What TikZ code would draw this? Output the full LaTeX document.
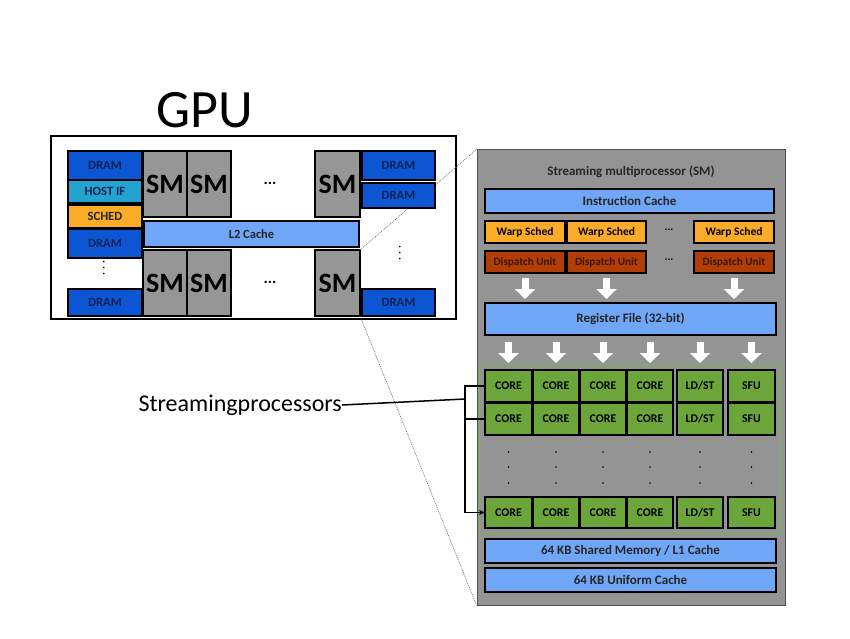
\documentclass[tikz,border=0pt]{standalone}
\usepackage{fontspec}
\setmainfont{Carlito}
\usepackage{tikz}
\usetikzlibrary{
    arrows.meta,
    calc,
    positioning
}
\usepackage{xcolor}
\definecolor{dramblue}{RGB}{12,86,212}
\definecolor{dramtext}{RGB}{18,34,84}
\definecolor{hostcyan}{RGB}{36,162,208}
\definecolor{schedorange}{RGB}{250,172,40}
\definecolor{cacheblue}{RGB}{112,166,246}
\definecolor{smgray}{RGB}{150,150,150}
\definecolor{panelgray}{RGB}{148,148,148}
\definecolor{panelborder}{RGB}{80,80,80}
\definecolor{dispatchred}{RGB}{176,62,6}
\definecolor{dispatchtext}{RGB}{60,22,4}
\definecolor{coregreen}{RGB}{108,166,58}
\definecolor{groupgreen}{RGB}{120,180,80}
\tikzstyle{block} = [
    rectangle,
    anchor=north west,
    inner sep=0pt,
    outer sep=0pt,
    draw=black,
    line width=1.2pt,
    text centered,
    font=\fontsize{12.6}{14}\selectfont\bfseries
]
\tikzstyle{dram} = [block, fill=dramblue, text=dramtext]
\tikzstyle{smblock} = [block, fill=smgray, font=\fontsize{28}{30}\selectfont\bfseries]
\tikzstyle{cache} = [block, fill=cacheblue, text=black!85, font=\fontsize{13}{15}\selectfont\bfseries]
\tikzstyle{warp} = [block, fill=schedorange, font=\fontsize{11.5}{13}\selectfont\bfseries]
\tikzstyle{dispatch} = [block, fill=dispatchred, text=dispatchtext, font=\fontsize{11.2}{13}\selectfont\bfseries]
\tikzstyle{core} = [block, fill=coregreen, font=\fontsize{11.8}{13}\selectfont\bfseries]
\tikzstyle{gpubox} = [rectangle, anchor=north west, draw=black, line width=1.6pt]
\tikzstyle{panel} = [rectangle, anchor=north west, draw=panelborder, fill=panelgray, line width=1.4pt]
\tikzstyle{spgroup} = [rectangle, anchor=north west, draw=groupgreen, line width=1.4pt]
\tikzstyle{hand} = [font=\fontsize{24}{28}\selectfont, inner sep=0pt]
\tikzstyle{ellip} = [font=\fontsize{11}{12}\selectfont\bfseries]
\tikzstyle{bigarrow} = [
    draw=white,
    line width=7pt,
    -{Triangle[width=20pt, length=10pt]}
]
\tikzstyle{bracket} = [draw=black, line width=1.5pt]
\tikzstyle{zoomline} = [draw=gray!80!black, line width=0.6pt, dash pattern=on 1pt off 1pt]

\begin{document}
\begin{tikzpicture}[x=1pt, y=-1pt]
    \fill[white] (0,0) rectangle (850,638);
    \useasboundingbox (0,0) rectangle (850,638);

    % GPU overview
    \node[hand, font=\fontsize{54}{60}\selectfont] (gpulabel) at (205,110) {GPU};
    \node[gpubox, minimum width=405, minimum height=183] (gpu) at (50,135) {};

    % SM panel
    \node[panel, minimum width=308, minimum height=456] (smpanel) at (477,149) {};

    % Left column
    \node[dram, minimum width=74, minimum height=29] (dramA) at (68,151) {DRAM};
    \node[block, fill=hostcyan, text=dramtext, minimum width=74, minimum height=23] (hostif) at (68,180) {HOST IF};
    \node[block, fill=schedorange, text=black!85, minimum width=74, minimum height=23] (sched) at (68,205) {SCHED};
    \node[dram, minimum width=74, minimum height=29] (dramB) at (68,229) {DRAM};
    \node[ellip] at (104,268) {\rotatebox{90}{. . .}};
    \node[dram, minimum width=74, minimum height=27] (dramC) at (68,289) {DRAM};

    % SM columns
    \node[smblock, minimum width=44, minimum height=66] (smA) at (143,151) {SM};
    \node[smblock, minimum width=44, minimum height=66] (smB) at (187,151) {SM};
    \node[smblock, minimum width=45, minimum height=66] (smC) at (315,151) {SM};
    \node[smblock, minimum width=44, minimum height=66] (smD) at (143,250) {SM};
    \node[smblock, minimum width=44, minimum height=66] (smE) at (187,250) {SM};
    \node[smblock, minimum width=45, minimum height=66] (smF) at (315,250) {SM};
    \node[ellip, font=\fontsize{16}{16}\selectfont\bfseries] at (270,183) {...};
    \node[ellip, font=\fontsize{16}{16}\selectfont\bfseries] at (270,282) {...};
    \node[cache, font=\fontsize{12.5}{14}\selectfont\bfseries, minimum width=215, minimum height=26] (ltwo) at (144,221) {L2 Cache};

    % Right column
    \node[dram, minimum width=73, minimum height=29] (dramD) at (362,151) {DRAM};
    \node[ellip] at (400,253) {\rotatebox{90}{. . .}};
    \node[dram, minimum width=73, minimum height=27] (dramF) at (362,289) {DRAM};

    % Zoom lines
    \draw[zoomline] (smF.north east) -- (smpanel.north west);
    \draw[zoomline] (smF.south east) -- (smpanel.south west);
    \node[dram, minimum width=73, minimum height=25] (dramE) at (362,183) {DRAM};

    % SM internals
    \node[font=\fontsize{13}{15}\selectfont\bfseries, text=black!85] (smtitle) at (631,172) {Streaming multiprocessor (SM)};
    \node[cache, minimum width=289, minimum height=24] (icache) at (485,189) {Instruction Cache};

    \node[warp, minimum width=80, minimum height=22] (wsA) at (485,221) {Warp Sched};
    \node[warp, minimum width=79, minimum height=22] (wsB) at (567,221) {Warp Sched};
    \node[ellip] at (669,230) {...};
    \node[warp, minimum width=80, minimum height=22] (wsC) at (694,221) {Warp Sched};

    \node[dispatch, minimum width=80, minimum height=22] (dsA) at (485,251) {Dispatch Unit};
    \node[dispatch, minimum width=79, minimum height=22] (dsB) at (567,251) {Dispatch Unit};
    \node[ellip] at (669,260) {...};
    \node[dispatch, minimum width=80, minimum height=22] (dsC) at (694,251) {Dispatch Unit};

    \node[cache, minimum width=291, minimum height=32] (rf) at (485,303) {Register File (32-bit)};

    \foreach \d in {dsA, dsB, dsC}
        \draw[bigarrow] ([yshift=-5pt]\d.south) -- ($(\d.south |- rf.north)+(0,4pt)$);

    % Streaming processors
    \node[spgroup, minimum width=301, minimum height=167] (spgroup) at (479,365) {};
    \foreach \r/\y/\h in {A/370/32, B/403/32, C/497/31} {
        \foreach \i/\x/\w/\t in {1/485/47/CORE, 2/533/46/CORE, 3/580/46/CORE, 4/627/46/CORE, 5/677/46/{LD/ST}, 6/728/47/SFU} {
            \node[core, minimum width=\w, minimum height=\h] (c\r\i) at (\x,\y) {\t};
        }
    }
    \foreach \i in {1,...,6} {
        \draw[bigarrow] ($(rf.south -| cA\i)+(0,-7pt)$) -- ($(cA\i |- spgroup.north)+(0,2pt)$);
        \foreach \y in {452,467,483}
            \fill (cA\i.center |- 0,\y) circle (0.9pt);
    }

    \node[cache, minimum width=291, minimum height=24] (shmem) at (485,539) {64 KB Shared Memory / L1 Cache};
    \node[cache, minimum width=291, minimum height=24] (ucache) at (485,568) {64 KB Uniform Cache};

    % Label with bracket
    \node[hand, anchor=east] (splabel) at (342,405) {Streamingprocessors};
    \coordinate (brk) at (465,399);
    \draw[bracket] (cA1.west) -| (brk) |- (cB1.west);
    \draw[bracket] (splabel.east) -- (brk);
    \draw[bracket, -{Stealth[length=6pt, width=5pt]}] (brk) |- (cC1.west);
\end{tikzpicture}
\end{document}
